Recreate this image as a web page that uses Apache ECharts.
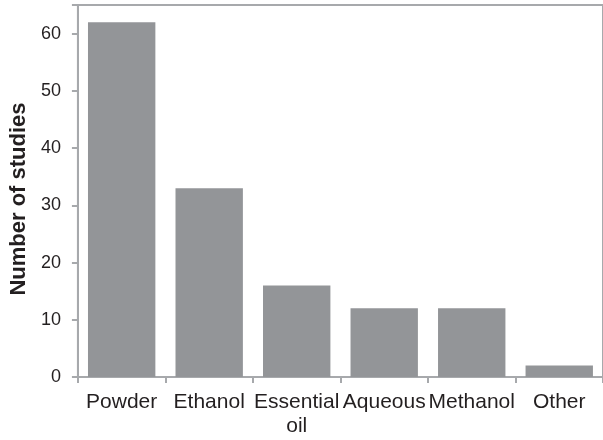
<!DOCTYPE html>
<html><head><meta charset="utf-8">
<script src="https://cdn.jsdelivr.net/npm/echarts@6/dist/echarts.min.js"></script>
<style>html,body{margin:0;padding:0;background:#fff}#c{width:603px;height:440px}</style>
</head><body><div id="c"></div>
<script>
const categories = ['Powder', 'Ethanol', 'Essential\noil', 'Aqueous', 'Methanol', 'Other'];
const studies = [62, 33, 16, 12, 12, 2];
const yTicks = [0, 10, 20, 30, 40, 50, 60];

const chart = echarts.init(document.getElementById('c'), null, {renderer: 'canvas'});
const axisColor = '#a7a9ac';
chart.setOption({
  animation: false,
  grid: {left: 77, top: 5, width: 528, bottom: 63, show: true, borderColor: axisColor, borderWidth: 2, backgroundColor: 'transparent'},
  xAxis: {
    type: 'category', data: categories,
    axisLine: {lineStyle: {color: axisColor, width: 2}},
    axisTick: {show: true, length: 6, lineStyle: {color: axisColor, width: 2}},
    axisLabel: {color: '#231f20', fontFamily: 'Liberation Sans', fontSize: 21, margin: 13, lineHeight: 24, interval: 0}
  },
  yAxis: {
    type: 'value', min: 0, max: 65, interval: 10,
    name: 'Number of studies', nameLocation: 'middle', nameGap: 47,
    nameTextStyle: {color: '#231f20', fontFamily: 'Liberation Sans', fontSize: 22, fontWeight: 'bold', padding: [0, 16, 0, 0]},
    axisLine: {show: true, lineStyle: {color: axisColor, width: 2}},
    axisTick: {show: true, length: 6, lineStyle: {color: axisColor, width: 2}},
    splitLine: {show: false},
    axisLabel: {color: '#231f20', fontFamily: 'Liberation Sans', fontSize: 18, margin: 17,
      formatter: v => yTicks.includes(v) ? String(v) : ''}
  },
  series: [{
    type: 'bar', data: studies, barCategoryGap: '23%',
    itemStyle: {color: '#939598'}
  }]
});
</script></body></html>
